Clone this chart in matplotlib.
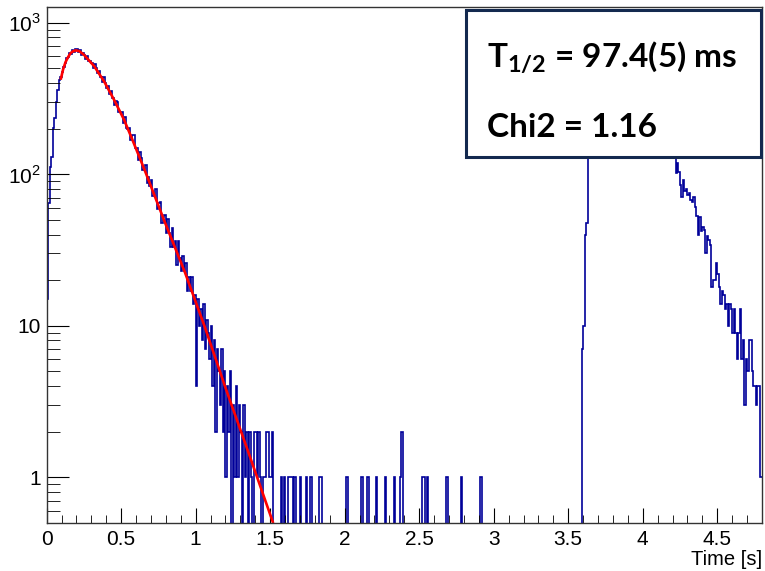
import numpy as np
import matplotlib
matplotlib.use("Agg")
import matplotlib.pyplot as plt
from matplotlib.patches import Rectangle
from matplotlib.ticker import FixedLocator, FixedFormatter, MultipleLocator

# ── Data (10 ms bins) ─────────────────────────────────────────────────────────

BIN_W = 0.01
N_BINS = 480

# bins 0..159  (0.00 - 1.59 s)
counts_first = [
    15, 65, 112, 130, 203, 236, 300, 361, 420, 440,
    470, 512, 540, 585, 590, 630, 625, 655, 640, 665,
    668, 637, 659, 611, 630, 607, 571, 600, 557, 558,
    540, 500, 531, 505, 466, 480, 438, 406, 437, 397,
    372, 381, 336, 355, 320, 288, 303, 301, 256, 257,
    257, 219, 240, 203, 198, 202, 167, 180, 182, 149,
    149, 124, 140, 128, 107, 109, 115, 87, 96, 84,
    91, 72, 72, 80, 59, 65, 66, 48, 52, 54,
    41, 51, 41, 33, 44, 33, 36, 25, 36, 28,
    23, 29, 23, 26, 17, 21, 17, 21, 14, 16,
    4, 15, 10, 13, 8, 14, 7, 11, 9, 6,
    10, 4, 8, 2, 7, 5, 3, 7, 2, 5,
    1, 4, 2, 5, 0, 3, 1, 4, 1, 3,
    2, 0, 3, 1, 2, 0, 2, 1, 0, 2,
    2, 1, 2, 1, 0, 1, 1, 2, 2, 1,
    1, 2, 0, 0, 0, 0, 0, 1, 0, 1,
]

# sparse tail between the two bunches
tail_ones = [1.62, 1.63, 1.64, 1.66, 1.70, 1.74, 1.77, 1.83, 1.84, 2.01,
             2.11, 2.15, 2.21, 2.27, 2.33, 2.37, 2.52, 2.53, 2.55, 2.68,
             2.78, 2.91]
tail_twos = [2.38]

# bins 358..479  (3.58 - 4.79 s), the part under the box is a guess
counts_second = [
    0, 7, 10, 40, 48, 140, 190, 240, 280, 320,
    350, 370, 390, 400, 405, 400, 395, 390, 384, 370,
    366, 352, 348, 335, 331, 318, 314, 302, 300, 290,
    286, 275, 272, 262, 258, 250, 245, 238, 232, 228,
    220, 218, 210, 208, 200, 198, 190, 188, 182, 178,
    172, 170, 164, 160, 156, 152, 147, 145, 140, 136,
    134, 131, 130, 130, 102, 119, 104, 85, 71, 92,
    77, 80, 73, 75, 68, 66, 71, 61, 53, 40,
    52, 42, 45, 43, 30, 39, 37, 34, 18, 20,
    20, 26, 22, 18, 14, 17, 16, 13, 14, 10,
    14, 13, 9, 13, 9, 6, 9, 13, 6, 8,
    3, 6, 5, 8, 8, 5, 4, 4, 3, 4,
    4, 1,
]
SECOND_START = 358

# fit curve, sampled off the red line
fit_t = [0.094, 0.11, 0.127, 0.145, 0.161, 0.175, 0.195, 0.22, 0.251, 0.318,
         0.385, 0.452, 0.519, 0.575, 0.66, 0.794, 0.928, 1.06, 1.20, 1.35, 1.52]
fit_v = [420, 490, 550, 595, 630, 645, 656, 648, 612, 517,
         410, 310, 229, 169, 105, 48, 22.5, 9.9, 3.9, 1.5, 0.5]

# ── Build histogram ───────────────────────────────────────────────────────────

counts = np.zeros(N_BINS)
counts[:len(counts_first)] = counts_first
for t in tail_ones:
    counts[int(round(t / BIN_W))] = 1
for t in tail_twos:
    counts[int(round(t / BIN_W))] = 2
counts[SECOND_START:SECOND_START + len(counts_second)] = counts_second
edges = np.arange(N_BINS + 1) * BIN_W

# empty bins drop below the log axis
draw_vals = np.where(counts > 0, counts, 1e-3)

# ── Plot ──────────────────────────────────────────────────────────────────────

plt.rcParams["font.family"] = ["Liberation Sans", "DejaVu Sans"]
plt.rcParams["mathtext.fontset"] = "custom"
plt.rcParams["mathtext.rm"] = "Liberation Sans"
plt.rcParams["mathtext.bf"] = "Lato:bold"

fig = plt.figure(figsize=(7.65, 5.71), dpi=100)
ax = fig.add_axes([0.061, 0.084, 0.935, 0.904])

ax.stairs(draw_vals, edges, color="#000099", linewidth=1.2, baseline=None)
ax.plot(fit_t, fit_v, color="red", linewidth=1.9, solid_capstyle="butt")

ax.set_yscale("log")
ax.set_xlim(0, 4.8)
ax.set_ylim(0.5, 1270)

ax.xaxis.set_major_locator(MultipleLocator(0.5))
ax.xaxis.set_minor_locator(MultipleLocator(0.1))
ax.xaxis.set_major_formatter(matplotlib.ticker.FuncFormatter(
    lambda v, p: f"{v:g}"))

ax.yaxis.set_major_locator(FixedLocator([1, 10, 100, 1000]))
ax.yaxis.set_major_formatter(FixedFormatter(["1", "10", r"$10^2$", r"$10^3$"]))
ax.yaxis.set_minor_locator(matplotlib.ticker.LogLocator(subs=np.arange(2, 10)))
ax.yaxis.set_minor_formatter(matplotlib.ticker.NullFormatter())

ax.tick_params(which="both", direction="in", top=False, right=False,
               labelsize=15, colors="black")
ax.tick_params(axis="x", which="major", length=11, pad=5)
ax.tick_params(axis="x", which="minor", length=6)
ax.tick_params(axis="y", which="major", length=16, pad=4)
ax.tick_params(axis="y", which="minor", length=9)
for sp in ax.spines.values():
    sp.set_color("#333333")
    sp.set_linewidth(1.0)

# axis title sits right-aligned under the last tick label, ROOT style
fig.text(0.996, 1 - 565 / 571, "Time [s]", fontsize=14.5, ha="right",
         va="baseline")

# ── Result box ────────────────────────────────────────────────────────────────

box = Rectangle((0.586, 0.709), 0.412, 0.285, transform=ax.transAxes,
                facecolor="white", edgecolor="#13294f", linewidth=2.2,
                zorder=5, clip_on=False)
ax.add_patch(box)
ax.text(0.6156, 0.882, r"T$_{\mathbf{1/2}}$ = 97.4(5) ms", transform=ax.transAxes,
        fontsize=24, fontweight="bold", family="Lato", va="baseline", ha="left",
        zorder=6)
ax.text(0.6156, 0.748, "Chi2 = 1.16", transform=ax.transAxes,
        fontsize=24, fontweight="bold", family="Lato", va="baseline", ha="left",
        zorder=6)

fig.savefig("out.png", dpi=100)
